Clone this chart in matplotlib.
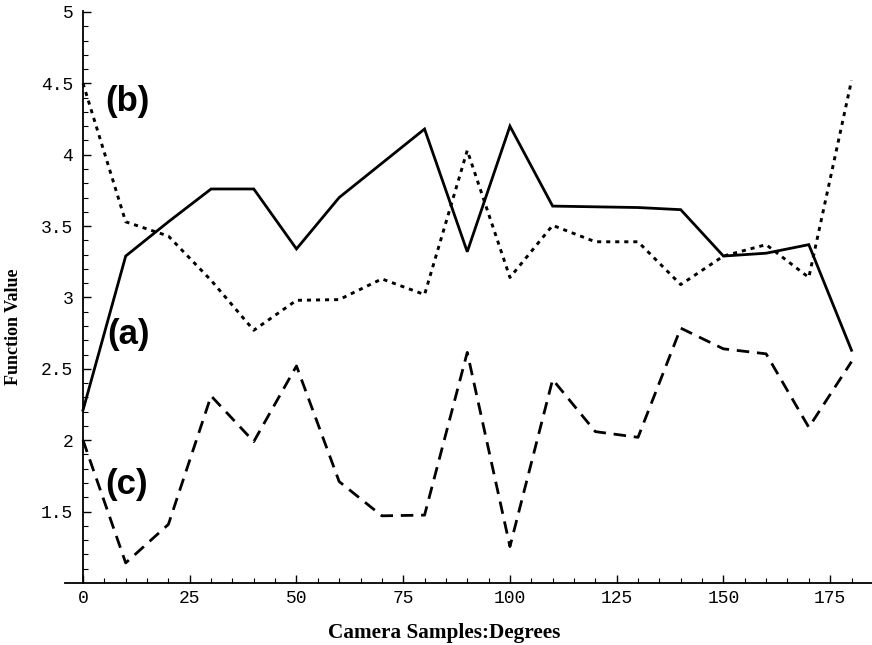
import numpy as np
import matplotlib
matplotlib.use("Agg")
import matplotlib.pyplot as plt

# camera samples (degrees)
angles = [0, 10, 20, 30, 40, 50, 60, 70, 80, 90, 100, 110, 120, 130, 140, 150, 160, 170, 180]

# (a) solid
curve_a = [2.21, 3.29, 3.53, 3.76, 3.76, 3.34, 3.70, 3.94, 4.18, 3.32, 4.20, 3.64, 3.635, 3.63, 3.615, 3.29, 3.31, 3.37, 2.63]
# (b) dotted
curve_b = [4.50, 3.53, 3.43, 3.12, 2.77, 2.98, 2.985, 3.13, 3.02, 4.03, 3.14, 3.505, 3.39, 3.39, 3.09, 3.29, 3.37, 3.14, 4.52]
# (c) dashed
curve_c = [2.00, 1.14, 1.41, 2.31, 1.99, 2.52, 1.71, 1.47, 1.475, 2.615, 1.255, 2.425, 2.06, 2.02, 2.785, 2.64, 2.605, 2.09, 2.55]

xticks = [0, 25, 50, 75, 100, 125, 150, 175]
yticks = [1.5, 2, 2.5, 3, 3.5, 4, 4.5, 5]

fig = plt.figure(figsize=(8.72, 6.45), dpi=100)
ax = fig.add_axes([0, 0, 1, 1])

ax.plot(angles, curve_a, color='black', lw=2.0, solid_joinstyle='miter')
ax.plot(angles, curve_b, color='black', lw=2.1, dashes=(1.4, 1.7))
ax.plot(angles, curve_c, color='black', lw=2.0, dashes=(4.5, 2.8))

ax.set_xlim(-19.44, 184.8)
ax.set_ylim(0.565, 5.084)

for s in ['top', 'right']:
    ax.spines[s].set_visible(False)
ax.spines['left'].set_position(('data', 0))
ax.spines['left'].set_bounds(1.0, 5.01)
ax.spines['bottom'].set_position(('data', 1.0))
ax.spines['bottom'].set_bounds(-4.2, 184.8)
ax.spines['left'].set_linewidth(1.3)
ax.spines['bottom'].set_linewidth(1.3)

ax.set_xticks(xticks)
ax.set_xticklabels([str(t) for t in xticks])
ax.set_yticks(yticks)
ax.set_yticklabels(['1.5', '2', '2.5', '3', '3.5', '4', '4.5', '5'])
ax.set_xticks(np.arange(5, 185, 5), minor=True)
ax.set_yticks(np.arange(1.1, 5.0, 0.1), minor=True)

ax.tick_params(direction='in', length=6, width=1, labelsize=13)
ax.tick_params(which='minor', direction='in', length=3.5, width=0.8)
ax.tick_params(axis='y', pad=7)
ax.tick_params(axis='x', pad=5)
for lab in ax.get_xticklabels() + ax.get_yticklabels():
    lab.set_family('Liberation Mono')

fig.text(0.016, 0.493, 'Function Value', rotation=90, ha='center', va='center',
         family='Liberation Serif', weight='bold', fontsize=13)
fig.text(0.509, 0.019, 'Camera Samples:Degrees', ha='center', va='center',
         family='Liberation Serif', weight='bold', fontsize=15.3)

ax.text(10.3, 4.37, '(b)', family='Liberation Sans', weight='bold', fontsize=25, ha='center', va='center')
ax.text(10.6, 2.74, '(a)', family='Liberation Sans', weight='bold', fontsize=25, ha='center', va='center')
ax.text(10.3, 1.69, '(c)', family='Liberation Sans', weight='bold', fontsize=25, ha='center', va='center')

fig.savefig('out.png', dpi=100)
